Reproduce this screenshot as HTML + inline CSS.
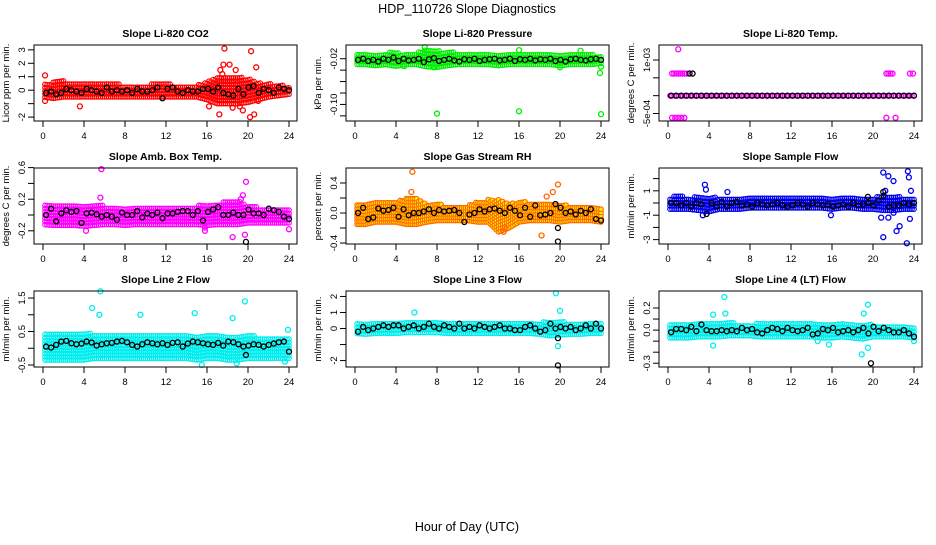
<!DOCTYPE html>
<html><head><meta charset="utf-8"><style>
html,body{margin:0;padding:0;background:#fff;}
svg text{font-family:"Liberation Sans",sans-serif;}
</style></head><body>
<svg id="chart" width="936" height="540" viewBox="0 0 936 540" xmlns="http://www.w3.org/2000/svg">
<text x="467" y="13" font-size="12.5" text-anchor="middle">HDP_110726  Slope Diagnostics</text>
<text x="467" y="531" font-size="12.5" text-anchor="middle">Hour of Day (UTC)</text>
</svg>
<script>
const titles = ["Slope Li-820 CO2","Slope Li-820 Pressure","Slope Li-820 Temp.","Slope Amb. Box Temp.","Slope Gas Stream RH","Slope Sample Flow","Slope Line 2 Flow","Slope Line 3 Flow","Slope Line 4 (LT) Flow"];
const yTitles = ["Licor ppm per min.","kPa per min.","degrees C per min.","degrees C per min.","percent per min.","ml/min per min.","ml/min per min.","ml/min per min.","ml/min per min."];
const colors = ["#ff0000","#00ee00","#ff00ff","#ff00ff","#ff6600","#0000ee","#00eeee","#00eeee","#00eeee"];
const fills = ["none","none","none","none","#ffee00","none","none","none","none"];
const yMin = [-2.29,-0.129,-7.1e-4,-0.367,-0.413,-3.36,-0.56,-2.4,-0.334];
const yMax = [3.36,0.004,1.42e-3,0.595,0.6,2.87,1.71,2.34,0.354];
const yTicks = [[-2,-1,0,1,2,3],[-0.12,-0.1,-0.08,-0.06,-0.04,-0.02],[-5e-4,0,5e-4,1e-3],[-0.2,0,0.2,0.4,0.6],[-0.4,-0.2,0,0.2,0.4],[-3,-2,-1,0,1,2],[-0.5,0,0.5,1,1.5],[-2,-1,0,1,2],[-0.3,-0.2,-0.1,0,0.1,0.2]];
const yTickLabels = [["-2","","0","1","2","3"],["","-0.10","","","","-0.02"],["-5e-04","","","1e-03"],["-0.2","","0.2","","0.6"],["-0.4","","0.0","","0.4"],["-3","","-1","","1",""],["-0.5","","0.5","","1.5"],["-2","","0","1","2"],["-0.3","","","0.0","","0.2"]];
const xTicks = [0,4,8,12,16,20,24];
const xTickLabels = ["0","4","8","12","16","20","24"];
const bandLo = [
 [-0.5,-0.6,-0.5,-0.5,-0.5,-0.5,-0.5,-0.5,-0.5,-0.5,-0.5,-0.5,-0.5,-0.5,-0.5,-0.5,-0.7,-1.0,-1.0,-1.0,-0.9,-0.7,-0.5,-0.4,-0.3],
 [-0.03,-0.03,-0.032,-0.03,-0.033,-0.03,-0.03,-0.034,-0.035,-0.032,-0.03,-0.03,-0.03,-0.03,-0.032,-0.03,-0.03,-0.03,-0.03,-0.03,-0.032,-0.03,-0.03,-0.03,-0.028],
 [0,0,0,0,0,0,0,0,0,0,0,0,0,0,0,0,0,0,0,0,0,0,0,0,0],
 [-0.12,-0.13,-0.13,-0.13,-0.14,-0.13,-0.12,-0.12,-0.13,-0.12,-0.12,-0.12,-0.12,-0.12,-0.12,-0.12,-0.13,-0.12,-0.12,-0.12,-0.1,-0.1,-0.1,-0.1,-0.1],
 [-0.15,-0.15,-0.12,-0.12,-0.12,-0.15,-0.15,-0.12,-0.1,-0.1,-0.1,-0.1,-0.12,-0.12,-0.25,-0.2,-0.12,-0.1,-0.1,-0.1,-0.12,-0.1,-0.1,-0.1,-0.12],
 [-0.5,-0.5,-0.5,-0.6,-0.7,-0.5,-0.5,-0.5,-0.4,-0.4,-0.4,-0.4,-0.4,-0.4,-0.4,-0.4,-0.5,-0.4,-0.4,-0.5,-0.5,-0.6,-0.6,-0.5,-0.5],
 [-0.35,-0.35,-0.35,-0.35,-0.35,-0.3,-0.3,-0.3,-0.3,-0.3,-0.3,-0.3,-0.3,-0.3,-0.3,-0.35,-0.3,-0.3,-0.35,-0.35,-0.3,-0.3,-0.3,-0.3,-0.3],
 [-0.3,-0.35,-0.3,-0.3,-0.3,-0.25,-0.25,-0.25,-0.25,-0.3,-0.3,-0.3,-0.3,-0.3,-0.3,-0.3,-0.3,-0.3,-0.35,-0.45,-0.4,-0.35,-0.35,-0.3,-0.3],
 [-0.07,-0.07,-0.07,-0.06,-0.06,-0.06,-0.05,-0.05,-0.05,-0.06,-0.06,-0.06,-0.06,-0.06,-0.06,-0.07,-0.07,-0.06,-0.07,-0.08,-0.06,-0.06,-0.06,-0.06,-0.07]
];
const bandHi = [
 [0.4,0.6,0.7,0.6,0.5,0.5,0.5,0.5,0.4,0.4,0.4,0.5,0.5,0.4,0.4,0.4,0.6,1.0,1.1,1.0,0.9,0.6,0.5,0.4,0.3],
 [-0.012,-0.01,-0.01,-0.008,-0.01,-0.01,-0.008,-0.004,-0.006,-0.006,-0.01,-0.012,-0.01,-0.012,-0.012,-0.012,-0.01,-0.012,-0.012,-0.012,-0.012,-0.008,-0.012,-0.012,-0.014],
 [0,0,0,0,0,0,0,0,0,0,0,0,0,0,0,0,0,0,0,0,0,0,0,0,0],
 [0.12,0.13,0.12,0.12,0.12,0.12,0.12,0.1,0.1,0.1,0.1,0.1,0.1,0.1,0.12,0.12,0.12,0.15,0.18,0.18,0.12,0.1,0.1,0.1,0.08],
 [0.12,0.12,0.15,0.15,0.15,0.2,0.2,0.12,0.12,0.1,0.1,0.1,0.15,0.18,0.18,0.12,0.15,0.15,0.15,0.12,0.12,0.1,0.1,0.1,0.08],
 [0.5,0.6,0.5,0.5,0.6,0.4,0.4,0.4,0.4,0.4,0.4,0.4,0.4,0.4,0.4,0.4,0.4,0.4,0.4,0.5,0.5,0.6,0.6,0.5,0.4],
 [0.45,0.45,0.45,0.45,0.45,0.45,0.4,0.4,0.4,0.4,0.4,0.4,0.4,0.4,0.4,0.4,0.4,0.4,0.4,0.4,0.4,0.35,0.35,0.35,0.35],
 [0.3,0.35,0.4,0.4,0.45,0.45,0.45,0.4,0.35,0.35,0.35,0.3,0.3,0.3,0.3,0.3,0.3,0.3,0.35,0.5,0.45,0.4,0.35,0.35,0.3],
 [0.05,0.06,0.06,0.06,0.07,0.07,0.07,0.06,0.06,0.06,0.06,0.06,0.06,0.06,0.06,0.06,0.06,0.06,0.06,0.06,0.05,0.05,0.05,0.05,0.04]
];
const means = [
 [-0.2,-0.1,-0.3,-0.2,0.1,0,-0.1,-0.2,0.1,0,-0.1,-0.2,0.2,-0.1,0,-0.1,0,-0.2,0.1,-0.1,-0.1,0,0.2,-0.6,0.1,0.2,-0.1,-0.2,0,-0.1,-0.1,0.1,0.1,-0.1,0.2,-0.2,-0.3,-0.4,0.1,-0.3,0.2,0.3,-0.2,0.1,0,-0.2,0.2,0.1,0],
 [-0.022,-0.02,-0.024,-0.022,-0.025,-0.02,-0.022,-0.018,-0.024,-0.02,-0.023,-0.022,-0.02,-0.026,-0.021,-0.019,-0.024,-0.022,-0.02,-0.023,-0.025,-0.021,-0.022,-0.02,-0.024,-0.022,-0.021,-0.02,-0.023,-0.022,-0.02,-0.024,-0.021,-0.022,-0.02,-0.023,-0.021,-0.022,-0.02,-0.024,-0.022,-0.025,-0.021,-0.02,-0.022,-0.023,-0.021,-0.02,-0.022],
 [0,0,0,0,0,0,0,0,0,0,0,0,0,0,0,0,0,0,0,0,0,0,0,0,0,0,0,0,0,0,0,0,0,0,0,0,0,0,0,0,0,0,0,0,0,0,0,0,0],
 [0,0.08,-0.08,0.02,0.06,0.04,0.05,-0.1,0.02,0.03,0.01,-0.02,0.0,-0.02,-0.06,0.03,0.0,0.0,0.05,-0.03,0.02,0.0,0.03,-0.04,0.02,0.02,0.04,0.05,0.05,0.0,0.05,-0.07,0.04,0.07,0.1,0.0,0.0,0.03,0.0,0.0,0.07,0.02,0.02,0.0,0.08,0.06,0.04,-0.02,-0.05],
 [0,0.07,-0.08,-0.06,0.06,0.03,0.04,0.07,-0.05,0.05,-0.03,0.0,0.0,0.02,0.05,0,0.04,0.02,0.03,0.04,0.0,-0.12,-0.02,0.0,0.05,0.02,0.05,0.06,0.03,0.0,0.07,0.03,-0.03,0.07,-0.05,0.1,-0.03,-0.02,0.0,0.12,0.07,0.0,0.02,-0.02,0.03,0.0,0.05,-0.08,-0.1],
 [0,0,-0.2,0,-0.3,0,-0.1,-0.9,0,-0.3,0.1,-0.3,0,0.1,-0.2,-0.1,-0.3,0,-0.1,-0.2,-0.1,0,-0.2,-0.3,-0.2,0,-0.1,-0.3,0,-0.1,-0.2,-0.1,-0.3,-0.2,-0.1,-0.3,0,-0.2,-0.1,0,-0.2,0.2,0.6,-0.3,-0.2,-0.2,0,-0.1,0],
 [0.05,0.02,0.1,0.2,0.22,0.15,0.12,0.14,0.2,0.17,0.08,0.12,0.15,0.16,0.2,0.22,0.18,0.1,0.05,0.12,0.18,0.15,0.12,0.15,0.1,0.16,0.18,0.05,0.14,0.2,0.18,0.15,0.12,0.1,0.16,0.08,0.2,0.18,0.12,0.05,0.08,0.12,0.1,0.05,0.1,0.14,0.18,0.2,-0.1],
 [-0.2,0.1,-0.1,0,0.1,0.2,0.1,0.2,0.2,0,0.1,0.2,0,0.1,0.3,0.1,0,0.2,0.1,0,0.3,0,0.1,0,0.2,0.1,0,0.1,0.2,0,0,-0.1,-0.1,0.1,0.2,0,-0.2,-0.1,0.3,0,0.1,0,0.1,-0.1,0,0.2,0,0.3,0],
 [-0.02,0.01,0.01,0.0,0.03,-0.01,0.05,0.0,-0.01,-0.01,0,-0.01,0,-0.01,0.02,0,0.01,-0.02,-0.03,0.0,0.02,0.01,-0.01,0.02,0.0,-0.01,0.0,0.02,-0.04,-0.03,0.01,0.0,0.02,-0.02,-0.01,0.0,-0.02,0.0,0.02,-0.03,0.03,-0.01,0.02,0.0,-0.02,-0.02,0.0,-0.03,-0.06]
];
const outliers = [
 [[0.2,1.1],[0.2,-0.8],[3.6,-1.2],[17.2,-1.8],[17.7,3.1],[17.6,1.9],[18.2,1.9],[17.5,1.2],[20.3,2.9],[20.6,-1.8],[20.8,1.7],[19.5,-1.5],[21.0,-0.8],[18.8,1.5],[16.2,-1.2],[19.2,-1.2],[20.2,-2.0],[18.5,-1.3],[17.3,1.5]],
 [[8,-0.116],[16,-0.112],[24,-0.117],[24,-0.034],[23.9,-0.045],[20,-0.035],[7.7,-0.035],[4.8,-0.033],[6.8,0.0],[16,-0.005],[22,-0.006]],
 [[0.4,6.2e-4],[0.6,6.2e-4],[0.8,6.2e-4],[1.0,6.2e-4],[1.2,6.2e-4],[1.4,6.2e-4],[1.6,6.2e-4],[1.8,6.2e-4],[21.3,6.2e-4],[21.5,6.2e-4],[21.7,6.2e-4],[21.9,6.2e-4],[23.6,6.2e-4],[23.9,6.2e-4],[1.0,1.3e-3],[0.4,-6.2e-4],[0.7,-6.2e-4],[1.0,-6.2e-4],[1.3,-6.2e-4],[1.6,-6.2e-4],[21.3,-6.2e-4],[22.2,-6.2e-4]],
 [[5.7,0.58],[5.6,0.22],[4.2,-0.2],[19.8,0.42],[19.5,0.25],[19.3,0.2],[18.5,-0.28],[19.7,-0.25],[15.8,-0.2],[15.8,-0.16],[24,-0.18]],
 [[5.6,0.55],[5.5,0.28],[18.7,0.22],[19.3,0.28],[19.8,0.38],[18.2,-0.3],[14.5,-0.25],[14.6,-0.2]],
 [[3.6,1.5],[3.7,1.1],[5.8,0.9],[3.4,-1.0],[15.9,-1.0],[21,2.5],[21.5,2.2],[22,1.8],[23.4,2.6],[23.5,2.1],[23.7,1.0],[21,-2.8],[21.5,-1.2],[22.3,-2.3],[22.6,-1.9],[23.3,-3.3],[23.6,-1.3],[21.2,1.0],[20.8,-1.2],[22,-0.8]],
 [[5.6,1.7],[5.5,1.0],[4.8,1.2],[9.5,1.0],[14.8,1.05],[19.7,1.4],[18.5,0.9],[23.9,0.55],[15.5,-0.5],[18.9,-0.45],[23.6,-0.4]],
 [[19.6,2.2],[5.8,1.0],[20,1.1],[19.8,-1.1]],
 [[5.5,0.3],[5.6,0.15],[4.4,0.14],[19.5,0.23],[19.1,0.15],[18.9,-0.22],[19.5,-0.16],[4.4,-0.14],[24,-0.1],[14.6,-0.1],[15.7,-0.13]]
];
const blackOut = [
 [], [], [[2.1,6.2e-4],[2.4,6.2e-4]], [[19.8,-0.34]], [[19.8,-0.38],[19.8,-0.2]], [[21,0.9],[19.5,0.5]], [[19.8,-0.2]], [[19.8,-2.3],[19.8,-0.6]], [[19.8,-0.3]]
];

const NS = "http://www.w3.org/2000/svg";
const svg = document.getElementById("chart");
const colL = [34,346,659], rowT = [45,168,291], W = 263, H = 76;
function el(tag, attrs, parent){const e=document.createElementNS(NS,tag);for(const k in attrs)e.setAttribute(k,attrs[k]);parent.appendChild(e);return e;}

for(let p=0;p<9;p++){
  const L=colL[p%3], T=rowT[Math.floor(p/3)];
  const g=el("g",{},svg);
  
  
  const xs=h=>L+9+h*10.25;
  const ys=v=>T+H-(v-yMin[p])/(yMax[p]-yMin[p])*H;
  const t=el("text",{x:L+W/2,y:T-8,"font-size":"10.5","font-weight":"bold","text-anchor":"middle"},g);
  t.textContent=titles[p];
  
  
  const yt=el("text",{x:0,y:0,"font-size":"9.5","text-anchor":"middle",transform:`translate(${L-25},${T+H/2}) rotate(-90)`},g);
  yt.textContent=yTitles[p];
  
  
  const band=el("g",{fill:fills[p],stroke:colors[p],"stroke-width":"1.1"},g);
  
  
  for(let h=0.2;h<=24;h+=0.2){
    const i=Math.min(23,Math.floor(h)), f=h-i;
    const lo=bandLo[p][i]*(1-f)+bandLo[p][i+1]*f, hi=bandHi[p][i]*(1-f)+bandHi[p][i+1]*f;
    const y0=ys(lo), y1=ys(hi);
    for(let y=y0;y>=y1-0.1;y-=3.2){
      const c=el("circle",{cx:xs(h).toFixed(1),cy:y.toFixed(1),r:"2.3"},band);
      
      
    }
  }
  const og=el("g",{fill:"none",stroke:colors[p],"stroke-width":"1.3"},g);
  outliers[p].forEach(d=>{
    const c=el("circle",{cx:xs(d[0]),cy:ys(d[1]),r:"2.5"},og);
    
    
  });
  const mg=el("g",{fill:"none",stroke:"#000","stroke-width":"1.3"},g);
  means[p].forEach((v,i)=>{
    const h=0.3+i*(23.7/(means[p].length-1));
    const c=el("circle",{cx:xs(h),cy:ys(v),r:"2.5"},mg);
    
    
  });
  blackOut[p].forEach(d=>{
    const c=el("circle",{cx:xs(d[0]),cy:ys(d[1]),r:"2.5"},mg);
    
    
  });
  const box=el("rect",{x:L,y:T,width:W,height:H,fill:"none",stroke:"#000","stroke-width":"1"},g);
  
  
  xTicks.forEach((v,i)=>{
    const x=xs(v);
    const ln=el("line",{x1:x,x2:x,y1:T+H,y2:T+H+6,stroke:"#000"},g);
    
    
    const tx=el("text",{x:x,y:T+H+18,"font-size":"9.5","text-anchor":"middle"},g);
    tx.textContent=xTickLabels[i];
    
    
  });
  yTicks[p].forEach((v,i)=>{
    const y=ys(v);
    const ln=el("line",{x1:L-6,x2:L,y1:y,y2:y,stroke:"#000"},g);
    
    
    if(yTickLabels[p][i]){
      const tx=el("text",{x:0,y:0,"font-size":"9.5","text-anchor":"middle",transform:`translate(${L-9},${y}) rotate(-90)`},g);
      tx.textContent=yTickLabels[p][i];
      
      
    }
  });
}
</script>
</body></html>
